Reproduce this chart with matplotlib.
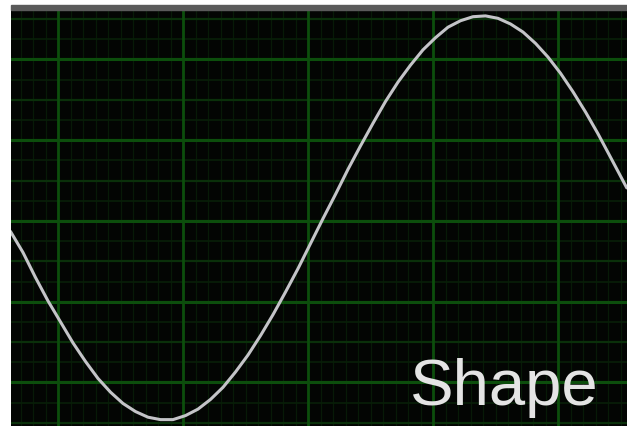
import numpy as np
import matplotlib
matplotlib.use("Agg")
import matplotlib.pyplot as plt
from matplotlib.patches import Rectangle

# trace, in grid divisions
t_div = [-0.38, -0.28, -0.18, -0.08, 0.02, 0.12, 0.22, 0.32, 0.42, 0.52, 0.62, 0.72,
         0.82, 0.92, 1.02, 1.12, 1.22, 1.32, 1.42, 1.52, 1.62, 1.72, 1.82, 1.92,
         2.02, 2.12, 2.22, 2.32, 2.42, 2.52, 2.62, 2.72, 2.82, 2.92, 3.02, 3.12,
         3.22, 3.32, 3.42, 3.52, 3.62, 3.72, 3.82, 3.92, 4.02, 4.12, 4.22, 4.32,
         4.42, 4.55]
v_div = [-0.13, -0.39, -0.70, -0.99, -1.25, -1.51, -1.74, -1.95, -2.12, -2.26, -2.36, -2.43,
         -2.46, -2.46, -2.41, -2.33, -2.21, -2.06, -1.87, -1.66, -1.42, -1.16, -0.88, -0.59,
         -0.28, 0.03, 0.33, 0.64, 0.93, 1.21, 1.48, 1.72, 1.93, 2.12, 2.27, 2.40,
         2.48, 2.53, 2.54, 2.51, 2.44, 2.34, 2.20, 2.03, 1.83, 1.60, 1.35, 1.08,
         0.79, 0.41]
label = "Shape"

W, H = 627, 427
fig = plt.figure(figsize=(W / 100, H / 100), dpi=100)
fig.patch.set_facecolor("white")

# screen area (pixels -> figure fractions)
ax = fig.add_axes([11 / W, 0, (W - 11) / W, (H - 11) / H])
ax.set_facecolor("#030503")
ax.set_xlim(-0.376, 4.552)
ax.set_ylim(-2.539, 2.613)
ax.set_xticks([])
ax.set_yticks([])
for s in ax.spines.values():
    s.set_visible(False)

# grey strip along the top edge
fig.patches.append(Rectangle((11 / W, (H - 11) / H), (W - 11) / W, 5 / H,
                             transform=fig.transFigure, color="#5a5a5a", zorder=0))

# graticule
for x in np.arange(-0.3, 4.6, 0.1):
    ax.axvline(x, color="#071a07", lw=0.9, zorder=1)
for y in np.arange(-2.5, 2.6, 0.25):
    ax.axhline(y, color="#081f08", lw=1.2, zorder=1)
for y in np.arange(-2.5, 2.6, 0.5):
    ax.axhline(y, color="#0a300a", lw=1.6, zorder=1)
for x in range(0, 5):
    ax.axvline(x, color="#0c4e0c", lw=2.0, zorder=2)
for y in range(-2, 3):
    ax.axhline(y, color="#0c4e0c", lw=2.2, zorder=2)

ax.plot(t_div, v_div, color="#c4c4c8", lw=2.2, solid_capstyle="round",
        solid_joinstyle="round", zorder=3)

fig.text(410 / W, 1 - 405 / H, label, family=["Liberation Sans", "DejaVu Sans"],
         fontsize=47, color="#e4e4e4", ha="left", va="baseline", zorder=5)

fig.savefig("out.png", dpi=100, facecolor=fig.get_facecolor())
